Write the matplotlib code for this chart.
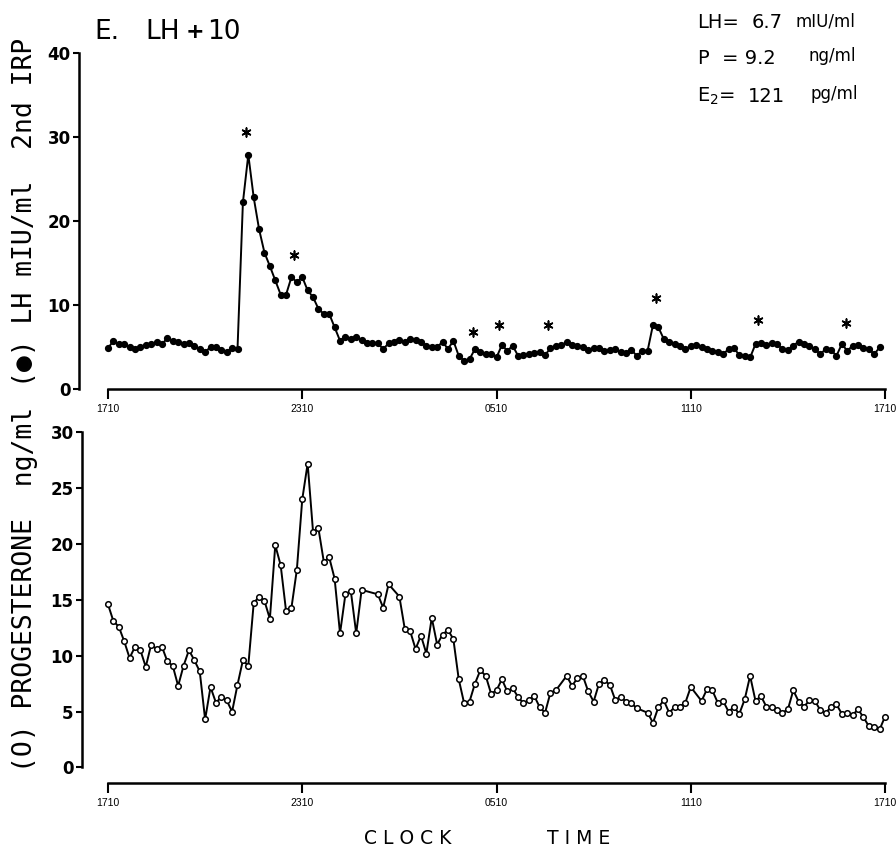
import numpy as np
import matplotlib
matplotlib.use('Agg')
import matplotlib.pyplot as plt
from matplotlib import font_manager

# LH, one sample every 10 min from 1710 (filled circles)
lh_values = [4.8, 5.7, 5.3, 5.3, 4.9, 4.7, 5.0, 5.2, 5.3, 5.5, 5.3, 6.0, 5.7, 5.6, 5.3, 5.4, 5.1, 4.7, 4.3, 5.0,
             4.9, 4.6, 4.4, 4.8, 4.7,
             22.2, 27.9, 22.8, 19.0, 16.2, 14.6, 12.9, 11.2, 11.2, 13.3, 12.7, 13.3, 11.7, 10.9, 9.5, 8.9, 8.9,
             7.3, 5.7, 6.2, 5.9, 6.2, 5.8, 5.4, 5.4, 5.4, 4.7, 5.4, 5.6, 5.8, 5.5, 5.9, 5.8, 5.5, 5.1, 4.9, 4.9,
             5.6, 4.7, 5.7, 3.9, 3.3, 3.5, 4.7, 4.3, 4.1, 4.1, 3.7, 5.2,
             4.5, 5.1, 3.9, 4.0, 4.1, 4.2, 4.4, 4.0, 4.8, 5.1, 5.2, 5.5, 5.2, 5.1, 5.0, 4.6, 4.8, 4.8, 4.5, 4.6,
             4.7, 4.3, 4.2, 4.6, 3.9, 4.5, 4.5, 7.6, 7.3, 5.9, 5.5, 5.3, 5.1, 4.7, 5.1, 5.2, 5.0, 4.7, 4.5, 4.4,
             4.1, 4.7, 4.8, 4.0, 3.9, 3.7, 5.3, 5.4, 5.2, 5.4, 5.3, 4.7, 4.6, 5.1, 5.6, 5.3, 5.1, 4.7, 4.1, 4.7,
             4.6, 3.9, 5.3, 4.5, 5.1, 5.2, 4.8, 4.7, 4.1, 4.9]
lh_hours = np.arange(len(lh_values)) / 6.0

# LH pulses marked with an asterisk (sample index, height of the mark)
pulse_index = [25.6, 34.4, 67.7, 72.4, 81.5, 101.5, 120.5, 136.8]
pulse_level = [30.6, 15.9, 6.8, 7.6, 7.6, 10.8, 8.2, 7.8]

# progesterone (open circles), sample index (10 min) and value
p_index = [0, 1, 2, 3, 4, 5, 6, 7, 8, 9, 10, 11, 12, 13, 14, 15, 16, 17, 18, 19,
           20, 21, 22, 23, 24, 25, 26, 27, 28, 29, 30, 31, 32, 33, 34, 35, 36, 37, 38, 39,
           40, 41, 42, 43, 44, 45, 46, 47, 50, 51, 52, 54, 55, 56, 57, 58, 59, 60, 61, 62,
           63, 64, 65, 66, 67, 68, 69, 70, 71, 72, 73, 74, 75, 76, 77, 78, 79, 80, 81, 82,
           83, 85, 86, 87, 88, 89, 90, 91, 92, 93, 94, 95, 96, 97, 98, 100, 101, 102, 103, 104,
           105, 106, 107, 108, 110, 111, 112, 113, 114, 115, 116, 117, 118, 119, 120, 121, 122, 123, 124, 125,
           126, 127, 128, 129, 130, 131, 132, 133, 134, 135, 136, 137, 138, 139, 140, 141, 142, 143, 144]
p_values = [14.6, 13.1, 12.6, 11.3, 9.8, 10.8, 10.5, 9.0, 11.0, 10.6, 10.8, 9.5, 9.1, 7.3, 9.1, 10.5, 9.6, 8.6, 4.3, 7.2,
            5.8, 6.3, 6.0, 5.0, 7.4, 9.6, 9.1, 14.7, 15.3, 14.9, 13.3, 19.9, 18.1, 14.0, 14.3, 17.7, 24.0, 27.2, 21.1, 21.4,
            18.4, 18.8, 16.9, 12.0, 15.5, 15.8, 12.0, 15.9, 15.5, 14.3, 16.4, 15.3, 12.4, 12.2, 10.6, 11.8, 10.2, 13.4, 11.0, 11.9,
            12.3, 11.5, 7.9, 5.75, 5.9, 7.5, 8.7, 8.2, 6.6, 6.9, 7.9, 6.8, 7.1, 6.3, 5.75, 6.05, 6.4, 5.4, 4.9, 6.7,
            6.9, 8.2, 7.3, 8.0, 8.2, 6.8, 5.9, 7.5, 7.8, 7.4, 6.05, 6.3, 5.9, 5.75, 5.3, 4.9, 4.0, 5.4, 6.0, 4.9,
            5.4, 5.45, 5.8, 7.2, 5.95, 7.0, 6.9, 5.8, 5.95, 5.0, 5.4, 4.8, 6.1, 8.2, 5.95, 6.4, 5.45, 5.4, 5.15, 4.9,
            5.2, 6.9, 5.9, 5.45, 6.0, 5.95, 5.15, 4.9, 5.4, 5.65, 4.8, 4.85, 4.7, 5.2, 4.5, 3.7, 3.6, 3.4, 4.55]
p_hours = np.array(p_index) / 6.0

tick_hours = [0, 6, 12, 18, 24]
tick_labels = ['1710', '2310', '0510', '1110', '1710']

# narrow digits for the clock labels if the narrow face is there
names = {f.name for f in font_manager.fontManager.ttflist}
tick_font = 'Liberation Sans Narrow' if 'Liberation Sans Narrow' in names else 'Liberation Sans'

W, H = 896, 850
fig = plt.figure(figsize=(W / 100, H / 100), dpi=100)


def style_axis(ax, ytop):
    for s in ['top', 'right']:
        ax.spines[s].set_visible(False)
    ax.spines['left'].set_bounds(0, ytop)
    ax.spines['bottom'].set_bounds(0, 24)
    ax.spines['left'].set_linewidth(1.8)
    ax.spines['bottom'].set_linewidth(1.8)
    ax.set_xticks(tick_hours)
    ax.set_xticklabels(tick_labels, fontsize=7.5, family=tick_font)
    ax.tick_params(axis='x', direction='out', length=7, width=1.5, pad=4)
    ax.tick_params(axis='y', direction='out', length=4, width=1.5, pad=2, labelsize=12)
    for lab in ax.get_yticklabels():
        lab.set_fontweight('bold')


# top panel: LH
ax1 = fig.add_axes([79 / W, 1 - 388.5 / H, (891 - 79) / W, 335.2 / H])
ax1.plot(lh_hours, lh_values, color='black', lw=1.4, marker='o', markersize=4.2,
         markerfacecolor='black', markeredgecolor='black')
ax1.scatter(np.array(pulse_index) / 6.0, pulse_level, marker=(6, 2, 0), s=40,
            color='black', linewidths=1.2)
ax1.set_xlim(-0.896, 24.185)
ax1.set_ylim(0, 40)
ax1.set_yticks([0, 10, 20, 30, 40])
style_axis(ax1, 40)

# bottom panel: progesterone
ax2 = fig.add_axes([82 / W, 1 - 783 / H, (891 - 82) / W, 350.7 / H])
ax2.plot(p_hours, p_values, color='black', lw=1.4, marker='o', markersize=4,
         markerfacecolor='white', markeredgecolor='black', markeredgewidth=1.1)
ax2.set_xlim(-0.803, 24.185)
ax2.set_ylim(-1.39, 30)
ax2.set_yticks([0, 5, 10, 15, 20, 25, 30])
style_axis(ax2, 30)


def ftext(x, y, s, **kw):
    fig.text(x / W, 1 - y / H, s, **kw)


# y axis titles
ftext(25, 212, '(\u25CF) LH mIU/ml  2nd IRP', rotation=90, ha='center', va='center',
      fontsize=19, family='DejaVu Sans Mono')
ftext(25, 589, '(O) PROGESTERONE  ng/ml', rotation=90, ha='center', va='center',
      fontsize=19, family='DejaVu Sans Mono')

# panel title
ftext(94, 32, 'E.', fontsize=19, ha='left', va='center')
ftext(145, 32, 'LH', fontsize=19, ha='left', va='center')
ftext(186, 32, '+', fontsize=16, fontweight='bold', ha='left', va='center')
ftext(207, 32, '10', fontsize=19, ha='left', va='center')

# mean values in the upper right
ftext(697, 23, 'LH=', fontsize=14, ha='left', va='center')
ftext(752, 23, '6.7', fontsize=14, ha='left', va='center')
ftext(795, 21, 'mIU/ml', fontsize=12, ha='left', va='center')
ftext(697, 58, 'P', fontsize=14, ha='left', va='center')
ftext(722, 58, '= 9.2', fontsize=14, ha='left', va='center')
ftext(808, 56, 'ng/ml', fontsize=12, ha='left', va='center')
ftext(697, 96, 'E$_2$=', fontsize=14, ha='left', va='center')
ftext(748, 96, '121', fontsize=14, ha='left', va='center')
ftext(810, 94, 'pg/ml', fontsize=12, ha='left', va='center')

# x axis title
ftext(408, 838, 'C L O C K', fontsize=13.5, ha='center', va='center')
ftext(579, 838, 'T I M E', fontsize=13.5, ha='center', va='center')

fig.savefig('out.png', dpi=100)
